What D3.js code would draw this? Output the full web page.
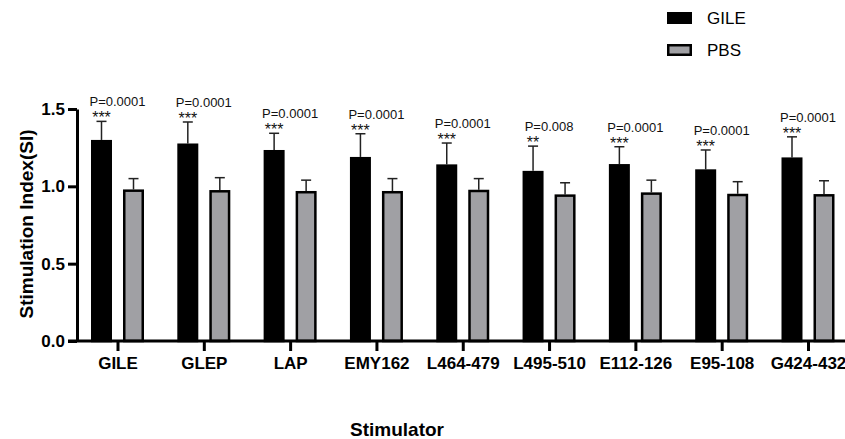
<!DOCTYPE html>
<html>
<head>
<meta charset="utf-8">
<script src="https://cdn.jsdelivr.net/npm/d3@7"></script>
<style>
  body { margin: 0; background: #fff; }
  svg { display: block; font-family: "Liberation Sans", Arial, sans-serif; }
</style>
</head>
<body>
<svg id="plot"></svg>
<script>
// data
const stimulators = ["GILE", "GLEP", "LAP", "EMY162", "L464-479", "L495-510", "E112-126", "E95-108", "G424-432"];
const groups = ["GILE", "PBS"];
const gileMean = [1.30, 1.277, 1.235, 1.19, 1.142, 1.10, 1.144, 1.11, 1.187];
const gileErr  = [0.12, 0.139, 0.108, 0.15, 0.138, 0.16, 0.112, 0.125, 0.133];
const pbsMean  = [0.98, 0.976, 0.97, 0.97, 0.978, 0.948, 0.961, 0.952, 0.95];
const pbsErr   = [0.07, 0.08, 0.07, 0.08, 0.072, 0.075, 0.079, 0.078, 0.086];
const pLabels  = ["P=0.0001", "P=0.0001", "P=0.0001", "P=0.0001", "P=0.0001", "P=0.008", "P=0.0001", "P=0.0001", "P=0.0001"];
const stars    = ["***", "***", "***", "***", "***", "**", "***", "***", "***"];
const yTicks   = [0, 0.5, 1.0, 1.5];

const dimensions = { width: 845, height: 439 };

const colors = { GILE: "#000000", PBS: "#a0a0a4" };

const svg = d3.select("#plot")
  .attr("width", dimensions.width)
  .attr("height", dimensions.height);

// scales
const yScale = d3.scaleLinear().domain([0, 1.5]).range([341, 109]);
const xScale = d3.scalePoint().domain(stimulators).range([117.5, 808]);
const inner = d3.scaleBand().domain(groups).range([-26.5, 26.5]).paddingInner(0.344);

const rows = stimulators.map((s, i) => ({
  name: s,
  values: [
    { group: "GILE", mean: gileMean[i], err: gileErr[i] },
    { group: "PBS", mean: pbsMean[i], err: pbsErr[i] }
  ],
  p: pLabels[i],
  stars: stars[i]
}));

const g = svg.append("g");

const groupSel = g.selectAll(".grp")
  .data(rows)
  .join("g")
  .attr("class", "grp")
  .attr("transform", d => `translate(${xScale(d.name)},0)`);

// error bars (drawn first, bar covers lower part)
const errSel = groupSel.selectAll(".err")
  .data(d => d.values)
  .join("g")
  .attr("class", "err");

errSel.append("line")
  .attr("x1", d => inner(d.group) + inner.bandwidth() / 2)
  .attr("x2", d => inner(d.group) + inner.bandwidth() / 2)
  .attr("y1", d => yScale(d.mean))
  .attr("y2", d => yScale(d.mean + d.err))
  .attr("stroke", "#222")
  .attr("stroke-width", 1.5);

errSel.append("line")
  .attr("x1", d => inner(d.group) + inner.bandwidth() / 2 - 5)
  .attr("x2", d => inner(d.group) + inner.bandwidth() / 2 + 5)
  .attr("y1", d => yScale(d.mean + d.err))
  .attr("y2", d => yScale(d.mean + d.err))
  .attr("stroke", "#222")
  .attr("stroke-width", 1.5);

// bars
groupSel.selectAll(".bar")
  .data(d => d.values)
  .join("rect")
  .attr("class", "bar")
  .attr("x", d => inner(d.group) + 1.25)
  .attr("width", inner.bandwidth() - 2.5)
  .attr("y", d => yScale(d.mean) + 1.25)
  .attr("height", d => yScale(0) - yScale(d.mean) - 1.25)
  .attr("fill", d => colors[d.group])
  .attr("stroke", "#000")
  .attr("stroke-width", 2.5);

// significance labels
groupSel.append("text")
  .attr("x", 0)
  .attr("y", d => yScale(d.values[0].mean + d.values[0].err) - 15)
  .attr("text-anchor", "middle")
  .attr("font-size", 13)
  .attr("fill", "#111")
  .text(d => d.p);

groupSel.append("text")
  .attr("x", inner("GILE") + inner.bandwidth() / 2)
  .attr("y", d => yScale(d.values[0].mean + d.values[0].err) + 2)
  .attr("text-anchor", "middle")
  .attr("font-size", 16)
  .attr("fill", "#111")
  .text(d => d.stars);

// y axis
const yAxis = d3.axisLeft(yScale)
  .tickValues(yTicks)
  .tickFormat(d3.format(".1f"))
  .tickSize(9)
  .tickSizeOuter(0);

const yG = svg.append("g")
  .attr("transform", "translate(77,0)")
  .call(yAxis);
yG.select(".domain").attr("stroke-width", 3).attr("stroke", "#000");
yG.selectAll(".tick line").attr("stroke-width", 3);
yG.selectAll(".tick text")
  .attr("font-family", "Liberation Sans, Arial, sans-serif")
  .attr("font-size", 17)
  .attr("font-weight", "bold")
  .attr("fill", "#000")
  .attr("x", -12);

// x axis
const xAxis = d3.axisBottom(xScale).tickSize(10).tickSizeOuter(0);
const xG = svg.append("g")
  .attr("transform", `translate(0,${yScale(0)})`)
  .call(xAxis);
xG.select(".domain").attr("d", "M68,0H845").attr("stroke-width", 3).attr("stroke", "#000");
xG.selectAll(".tick line").attr("stroke-width", 3);
xG.selectAll(".tick text")
  .attr("font-family", "Liberation Sans, Arial, sans-serif")
  .attr("font-size", 17)
  .attr("font-weight", "bold")
  .attr("fill", "#000")
  .attr("y", 16);

// axis titles
svg.append("text")
  .attr("transform", "translate(33,224) rotate(-90)")
  .attr("text-anchor", "middle")
  .attr("font-size", 19)
  .attr("font-weight", "bold")
  .text("Stimulation Index(SI)");

svg.append("text")
  .attr("x", 397)
  .attr("y", 436)
  .attr("text-anchor", "middle")
  .attr("font-size", 19)
  .attr("font-weight", "bold")
  .text("Stimulator");

// legend
const legend = svg.append("g").attr("transform", "translate(667,12)");
const item = legend.selectAll(".item")
  .data(groups)
  .join("g")
  .attr("class", "item")
  .attr("transform", (d, i) => `translate(0,${i * 32})`);

item.append("rect")
  .attr("x", 1.25)
  .attr("y", 1.25)
  .attr("width", 22.5)
  .attr("height", 9.5)
  .attr("fill", d => colors[d])
  .attr("stroke", "#000")
  .attr("stroke-width", 2.5);

item.append("text")
  .attr("x", 40)
  .attr("y", 6)
  .attr("dy", "0.35em")
  .attr("font-size", 17)
  .text(d => d);
</script>
</body>
</html>
